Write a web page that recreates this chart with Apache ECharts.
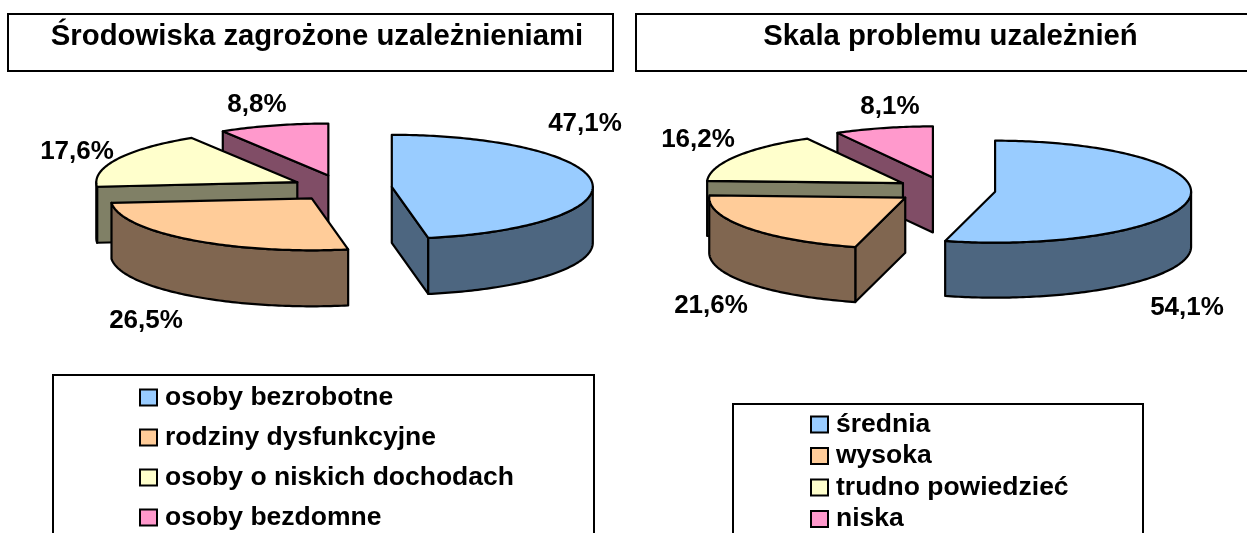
<!DOCTYPE html>
<html>
<head>
<meta charset="utf-8">
<style>html,body{margin:0;padding:0;background:#fff}#c{width:1247px;height:533px}</style>
<script src="https://cdn.jsdelivr.net/npm/echarts@6/dist/echarts.min.js"></script>
</head>
<body>
<div id="c"></div>
<script>
// ---- data ----
const titleLeft = 'Środowiska zagrożone uzależnieniami';
const titleRight = 'Skala problemu uzależnień';
const categoriesLeft = ['osoby bezrobotne', 'rodziny dysfunkcyjne', 'osoby o niskich dochodach', 'osoby bezdomne'];
const valuesLeft = [47.1, 26.5, 17.6, 8.8];
const categoriesRight = ['średnia', 'wysoka', 'trudno powiedzieć', 'niska'];
const valuesRight = [54.1, 21.6, 16.2, 8.1];

// ---- styles and layout ----
const topColors = ['#99CCFF', '#FFCC99', '#FFFFCC', '#FF99CC'];
const wallColors = ['#4D6680', '#806650', '#808066', '#804D66'];
const FONT = '"Liberation Sans", Arial, sans-serif';
const pieLeft = { cx: 342, cy: 188, rx: 201, ry: 52, depth: 56, explode: 50, labels: [[585, 124], [146, 321], [77, 152], [257, 105]] };
const pieRight = { cx: 945.5, cy: 190, rx: 196, ry: 51, depth: 55, explode: 50, labels: [[1187, 308], [711, 306], [698, 140], [890, 107]] };
const RAD = Math.PI / 180;

function point(p, ox, oy, deg, dy) {
  return [ox + p.rx * Math.sin(deg * RAD), oy - p.ry * Math.cos(deg * RAD) + (dy || 0)];
}
function arc(p, ox, oy, from, to, dy) {
  const pts = [], n = Math.max(2, Math.ceil(Math.abs(to - from)));
  for (let i = 0; i <= n; i++) pts.push(point(p, ox, oy, from + (to - from) * i / n, dy));
  return pts;
}
function sliceSeries(name, idx, values, p) {
  const total = values.reduce((s, v) => s + v, 0);
  const start = values.slice(0, idx).reduce((s, v) => s + v, 0) / total * 360;
  const end = start + values[idx] / total * 360;
  const mid = (start + end) / 2;
  const ox = p.cx + p.explode * Math.sin(mid * RAD);
  const oy = p.cy - p.explode * (p.ry / p.rx) * Math.cos(mid * RAD);
  return {
    type: 'custom', name, coordinateSystem: 'none', silent: true, animation: false,
    itemStyle: { color: topColors[idx] },
    data: [[values[idx]]],
    renderItem: function (params, api) {
      const v = api.value(0);
      const line = { stroke: '#000', lineWidth: 2.2, lineJoin: 'round' };
      const kids = [];
      const wall = (pts) => kids.push({ type: 'polygon', shape: { points: pts }, style: Object.assign({ fill: wallColors[idx] }, line) });
      const radial = (deg) => {
        const o = point(p, ox, oy, deg);
        wall([[ox, oy], o, [o[0], o[1] + p.depth], [ox, oy + p.depth]]);
      };
      if (Math.sin(start * RAD) < -1e-6) radial(start);
      if (Math.sin(end * RAD) > 1e-6) radial(end);
      const a = Math.max(start, 90), b = Math.min(end, 270);
      if (b > a) {
        wall(arc(p, ox, oy, a, b).concat(arc(p, ox, oy, b, a, p.depth)));
      }
      kids.push({
        type: 'polygon',
        shape: { points: [[ox, oy]].concat(arc(p, ox, oy, start, end)) },
        style: Object.assign({ fill: topColors[idx] }, line)
      });
      kids.push({
        type: 'text', z2: 10,
        style: {
          x: p.labels[idx][0], y: p.labels[idx][1],
          text: v.toFixed(1).replace('.', ',') + '%',
          fill: '#000', font: 'bold 26px ' + FONT, textAlign: 'center', textVerticalAlign: 'middle'
        }
      });
      return { type: 'group', children: kids };
    }
  };
}
function frame(x, y, w, h) {
  return { type: 'rect', silent: true, z: 0, shape: { x, y, width: w, height: h }, style: { fill: '#fff', stroke: '#000', lineWidth: 2 } };
}
const series = [];
[3, 2, 1, 0].forEach(i => series.push(sliceSeries(categoriesLeft[i], i, valuesLeft, pieLeft)));
[3, 2, 1, 0].forEach(i => series.push(sliceSeries(categoriesRight[i], i, valuesRight, pieRight)));

function legend(names, left, top, gap) {
  return {
    data: names, orient: 'vertical', left, top, height: 400, padding: 0, itemGap: gap, selectedMode: false,
    icon: 'rect', itemWidth: 17, itemHeight: 16,
    itemStyle: { borderColor: '#000', borderWidth: 2 },
    textStyle: { color: '#000', fontFamily: FONT, fontWeight: 'bold', fontSize: 26.5, padding: [0, 0, 0, 3] }
  };
}
const chart = echarts.init(document.getElementById('c'), null, { renderer: 'canvas' });
chart.setOption({
  backgroundColor: '#fff',
  animation: false,
  tooltip: { show: false },
  title: [
    { text: titleLeft, left: 312, top: 17, textAlign: 'center', textStyle: { color: '#000', fontFamily: FONT, fontWeight: 'bold', fontSize: 29.3 } },
    { text: titleRight, left: 945.5, top: 17, textAlign: 'center', textStyle: { color: '#000', fontFamily: FONT, fontWeight: 'bold', fontSize: 29.3 } }
  ],
  graphic: [
    frame(8, 14, 605, 57),
    frame(636, 14, 640, 57),
    frame(53, 375, 541, 220),
    frame(733, 404, 410, 220)
  ],
  legend: [
    legend(categoriesLeft, 139, 384, 13),
    legend(categoriesRight, 810, 411, 4.5)
  ],
  series
});
</script>
</body>
</html>
